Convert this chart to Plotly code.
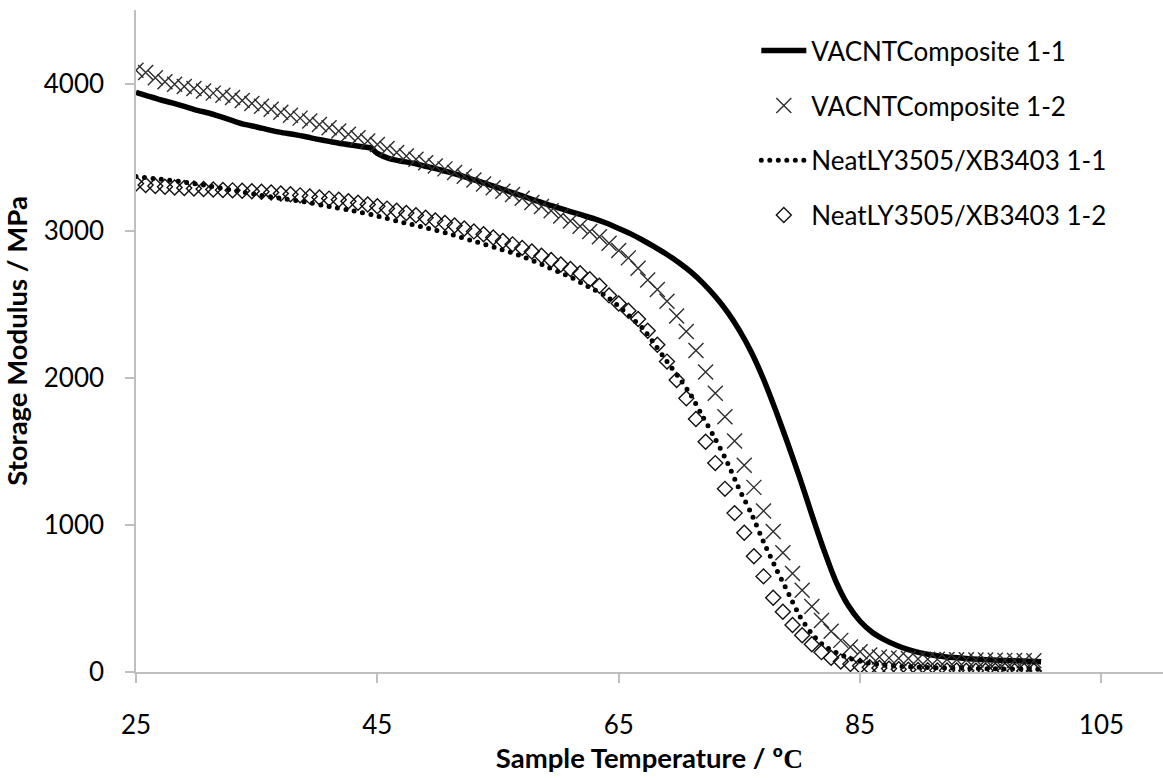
import plotly.graph_objects as go

# ---- Storage modulus vs. sample temperature (DMA) ----

# VACNTComposite 1-1 (solid line)
s_T = [25, 26, 27, 28, 29, 30, 31, 32, 33, 34, 35, 36, 37, 38, 39, 40, 41, 42, 43, 44, 44.5,
       45, 46, 47, 48, 49, 50, 51, 52, 53, 54, 55, 56, 57, 58, 59, 60, 61, 62, 63, 64, 65,
       66, 67, 68, 69, 70, 71, 72, 73, 74, 75, 76, 77, 78, 79, 80, 81, 82, 83, 84, 85, 86,
       87, 88, 89, 90, 92, 94, 96, 98, 100]
s_M = [3940, 3915, 3890, 3868, 3845, 3820, 3800, 3775, 3748, 3722, 3705, 3685, 3668, 3655,
       3640, 3622, 3607, 3592, 3580, 3568, 3560, 3525, 3490, 3472, 3458, 3438, 3418, 3396,
       3372, 3346, 3320, 3292, 3264, 3236, 3208, 3180, 3155, 3130, 3105, 3080, 3050, 3015,
       2978, 2935, 2888, 2838, 2782, 2718, 2642, 2552, 2448, 2322, 2172, 1990, 1780, 1555,
       1320, 1070, 830, 615, 455, 345, 270, 220, 182, 152, 130, 103, 90, 82, 76, 70]

# Sample temperatures of the marker series
m_T = [25.0, 25.8, 26.6, 27.4, 28.2, 29.0, 29.8, 30.6, 31.4, 32.2, 33.0, 33.8, 34.6, 35.4,
       36.2, 37.0, 37.8, 38.6, 39.4, 40.2, 41.0, 41.8, 42.6, 43.4, 44.2, 45.0, 45.8, 46.6,
       47.4, 48.2, 49.0, 49.8, 50.6, 51.4, 52.2, 53.0, 53.8, 54.6, 55.4, 56.2, 57.0, 57.8,
       58.6, 59.4, 60.2, 61.0, 61.8, 62.6, 63.4, 64.2, 65.0, 65.8, 66.6, 67.4, 68.2, 69.0,
       69.8, 70.6, 71.4, 72.2, 73.0, 73.8, 74.6, 75.4, 76.2, 77.0, 77.8, 78.6, 79.4, 80.2,
       81.0, 81.8, 82.6, 83.4, 84.2, 85.0, 85.8, 86.6, 87.4, 88.2, 89.0, 89.8, 90.6, 91.4,
       92.2, 93.0, 93.8, 94.6, 95.4, 96.2, 97.0, 97.8, 98.6, 99.4]

# VACNTComposite 1-2 (crosses)
c_M = [4090, 4075, 4040, 4012, 3995, 3980, 3966, 3950, 3935, 3920, 3905, 3885, 3865, 3845,
       3825, 3805, 3785, 3765, 3745, 3722, 3700, 3678, 3655, 3632, 3610, 3585, 3558, 3532,
       3508, 3485, 3462, 3440, 3420, 3395, 3370, 3345, 3318, 3292, 3268, 3246, 3220, 3192,
       3165, 3135, 3100, 3065, 3030, 2995, 2958, 2915, 2865, 2815, 2745, 2665, 2600, 2520,
       2420, 2315, 2185, 2040, 1895, 1735, 1570, 1405, 1255, 1095, 955, 810, 670, 555,
       445, 350, 277, 215, 170, 138, 115, 102, 96, 93, 91, 89, 87, 86,
       85, 84, 83, 82, 81, 80, 79, 78, 77, 76]

# NeatLY3505/XB3403 1-1 (dotted line)
n_T = [25, 27, 29, 31, 33, 35, 37, 39, 41, 43, 45, 47, 49, 51, 53, 55, 57, 59, 60, 61, 62,
       63, 64, 65, 66, 67, 68, 69, 70, 71, 72, 73, 74, 75, 76, 77, 78, 79, 80, 81, 82, 83,
       84, 85, 86, 87, 88, 90, 92, 94, 96, 98, 100]
n_M = [3368, 3350, 3330, 3305, 3275, 3245, 3220, 3195, 3165, 3135, 3100, 3058, 3020, 2978,
       2928, 2880, 2825, 2757, 2720, 2685, 2640, 2598, 2553, 2485, 2412, 2335, 2225, 2110,
       2000, 1880, 1730, 1585, 1425, 1240, 1075, 885, 710, 545, 380, 260, 180, 132, 97, 72,
       56, 46, 40, 32, 27, 24, 22, 20, 19]

# NeatLY3505/XB3403 1-2 (diamonds)
d_M = [3320, 3310, 3303, 3298, 3294, 3290, 3286, 3283, 3280, 3277, 3274, 3271, 3268, 3265,
       3260, 3253, 3247, 3240, 3233, 3226, 3218, 3210, 3200, 3190, 3178, 3166, 3150, 3135,
       3120, 3105, 3088, 3070, 3053, 3035, 3015, 2995, 2975, 2953, 2930, 2907, 2883, 2858,
       2830, 2800, 2770, 2740, 2710, 2670, 2625, 2560, 2505, 2455, 2400, 2320, 2225, 2110,
       1985, 1860, 1720, 1565, 1420, 1245, 1080, 946, 787, 650, 505, 410, 320, 250,
       188, 135, 96, 72, 55, 42, 33, 27, 23, 19, 16, 14, 12, 11,
       10, 10, 9, 9, 8, 8, 8, 7, 7, 7]

names = ["VACNTComposite 1-1", "VACNTComposite 1-2",
         "NeatLY3505/XB3403 1-1", "NeatLY3505/XB3403 1-2"]

x_ticks = [25, 45, 65, 85, 105]
y_ticks = [0, 1000, 2000, 3000, 4000]

FONT = "Lato"
AXIS_GREY = "#bfbfbf"

fig = go.Figure()
fig.add_trace(go.Scatter(x=s_T, y=s_M, name=names[0], mode="lines", legendgroup="a",
                         line=dict(color="black", width=5.5, shape="spline", smoothing=0.6)))
fig.add_trace(go.Scatter(x=m_T, y=c_M, name=names[1], mode="markers", legendgroup="b",
                         marker=dict(symbol="x-thin-open", size=15, color="#2e2e2e",
                                     line=dict(color="#2e2e2e", width=1.4))))
fig.add_trace(go.Scatter(x=n_T, y=n_M, name=names[2], mode="lines", legendgroup="c",
                         line=dict(color="black", width=5, dash="0px,8.5px",
                                   shape="spline", smoothing=0.6)))
fig.add_trace(go.Scatter(x=m_T, y=d_M, name=names[3], mode="markers", legendgroup="d",
                         marker=dict(symbol="diamond-open", size=11.5, color="#111111",
                                     line=dict(color="#111111", width=1.4))))

axis_common = dict(showgrid=False, zeroline=False, showline=True, linecolor=AXIS_GREY,
                   linewidth=1.5, ticks="outside", tickcolor=AXIS_GREY, tickwidth=1.5,
                   ticklen=9, tickfont=dict(family=FONT, size=26, color="black"))

title_font = dict(family=FONT, size=27.5, color="black", weight="bold")

fig.update_xaxes(range=[25, 110.1], tickmode="array", tickvals=x_ticks,
                 ticktext=[str(v) for v in x_ticks], ticklabelstandoff=20,
                 title=dict(text="Sample Temperature / º<span style=\"font-family:'Liberation Serif'\">C</span>",
                            font=title_font, standoff=10),
                 **axis_common)
fig.update_yaxes(range=[0, 4500], tickmode="array", tickvals=y_ticks,
                 ticktext=[str(v) for v in y_ticks], ticklabelstandoff=16,
                 title=dict(text="Storage Modulus / MPa", font=title_font, standoff=9),
                 **axis_common)

fig.update_layout(
    width=1163, height=778,
    margin=dict(l=136, r=0, t=10, b=106, pad=0),
    paper_bgcolor="white", plot_bgcolor="white",
    font=dict(family=FONT, size=26, color="black"),
    showlegend=True,
    legend=dict(x=0.604, y=0.974, xanchor="left", yanchor="top",
                traceorder="grouped", tracegroupgap=18, itemwidth=45,
                font=dict(family=FONT, size=26, color="black"),
                bgcolor="rgba(0,0,0,0)", borderwidth=0),
)

# Round caps turn the zero-length dashes of the dotted series into round dots
round_dots = """
var gd = document.getElementsByClassName('plotly-graph-div')[0];
function roundDots() {
  var tr = gd.querySelectorAll('.scatterlayer .trace')[2];
  if (tr) tr.querySelectorAll('path.js-line').forEach(function (p) { p.style.strokeLinecap = 'round'; });
  var lg = gd.querySelectorAll('.legend .traces')[2];
  if (lg) lg.querySelectorAll('path').forEach(function (p) { p.style.strokeLinecap = 'round'; });
}
roundDots();
gd.on('plotly_afterplot', roundDots);
"""

fig.write_html("out.html", post_script=round_dots)
